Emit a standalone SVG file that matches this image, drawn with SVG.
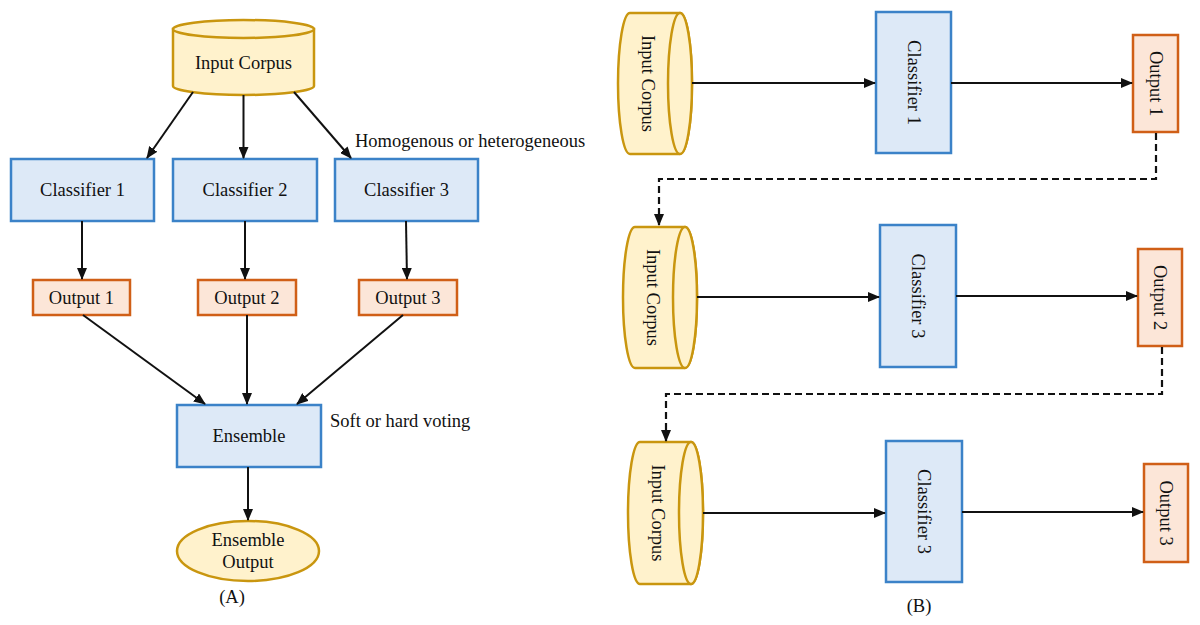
<svg xmlns="http://www.w3.org/2000/svg" width="1200" height="625" viewBox="0 0 1200 625">
<style>
text{font-family:"Liberation Serif","Times New Roman",serif;font-size:18.5px;fill:#111}
.cyl{fill:#fff2cc;stroke:#c9960f;stroke-width:2.5}
.blue{fill:#dde9f7;stroke:#3b82c8;stroke-width:2.5}
.orange{fill:#fce6d8;stroke:#d05f17;stroke-width:2.5}
.c{stroke:#111;stroke-width:2;fill:none}
.d{stroke:#111;stroke-width:2.2;fill:none;stroke-dasharray:7 4}
</style>
<defs>
<marker id="ah" markerWidth="12" markerHeight="10" refX="11" refY="5" orient="auto" markerUnits="userSpaceOnUse">
<path d="M0,0 L12,5 L0,10 Z" fill="#111"/>
</marker>
</defs>
<rect width="1200" height="625" fill="#fff"/>

<!-- Panel A -->
<g id="a-input">
<path class="cyl" d="M173,29 L173,86 A70.5,9 0 0 0 314,86 L314,29 Z"/>
<ellipse class="cyl" cx="243.5" cy="29" rx="70.5" ry="9"/>
<text x="243.5" y="69" text-anchor="middle">Input Corpus</text>
</g>
<g id="a-clf1"><rect class="blue" x="11" y="159" width="143" height="62"/><text x="82.5" y="196" text-anchor="middle">Classifier 1</text></g>
<g id="a-clf2"><rect class="blue" x="173" y="159" width="144" height="62"/><text x="245" y="196" text-anchor="middle">Classifier 2</text></g>
<g id="a-clf3"><rect class="blue" x="335" y="159" width="143" height="62"/><text x="406.5" y="196" text-anchor="middle">Classifier 3</text></g>
<g id="a-out1"><rect class="orange" x="33" y="280" width="97" height="35"/><text x="81.5" y="304" text-anchor="middle">Output 1</text></g>
<g id="a-out2"><rect class="orange" x="198" y="280" width="98" height="35"/><text x="247" y="304" text-anchor="middle">Output 2</text></g>
<g id="a-out3"><rect class="orange" x="359" y="280" width="98" height="35"/><text x="408" y="304" text-anchor="middle">Output 3</text></g>
<g id="a-ens"><rect class="blue" x="177" y="405" width="144" height="62"/><text x="249" y="442" text-anchor="middle">Ensemble</text></g>
<g id="a-ensout"><ellipse class="cyl" cx="248" cy="551" rx="71" ry="30"/><text x="248" y="546" text-anchor="middle">Ensemble</text><text x="248" y="568" text-anchor="middle">Output</text></g>
<text id="a-lbl1" x="355" y="147">Homogenous or heterogeneous</text>
<text id="a-lbl2" x="330" y="427">Soft or hard voting</text>
<text id="a-cap" x="232" y="603" text-anchor="middle">(A)</text>

<!-- Panel B -->
<g id="b-input1">
<path class="cyl" d="M630,13 L680,13 A12,70.5 0 0 1 680,154 L630,154 A12,70.5 0 0 1 630,13 Z"/>
<ellipse class="cyl" cx="680" cy="83.5" rx="12" ry="70.5"/>
<text transform="translate(648,83.5) rotate(90)" text-anchor="middle" dominant-baseline="central">Input Corpus</text>
</g>
<g id="b-clf1"><rect class="blue" x="876" y="12" width="75" height="141"/><text transform="translate(913.5,82.5) rotate(90)" text-anchor="middle" dominant-baseline="central">Classifier 1</text></g>
<g id="b-out1"><rect class="orange" x="1133" y="35" width="45" height="97"/><text transform="translate(1155.5,83.5) rotate(90)" text-anchor="middle" dominant-baseline="central">Output 1</text></g>

<g id="b-input2">
<path class="cyl" d="M635,227 L685,227 A12,70.5 0 0 1 685,368 L635,368 A12,70.5 0 0 1 635,227 Z"/>
<ellipse class="cyl" cx="685" cy="297.5" rx="12" ry="70.5"/>
<text transform="translate(653,297.5) rotate(90)" text-anchor="middle" dominant-baseline="central">Input Corpus</text>
</g>
<g id="b-clf2"><rect class="blue" x="880" y="225" width="76" height="142"/><text transform="translate(918,296) rotate(90)" text-anchor="middle" dominant-baseline="central">Classifier 3</text></g>
<g id="b-out2"><rect class="orange" x="1138" y="249" width="44" height="97"/><text transform="translate(1160,297.5) rotate(90)" text-anchor="middle" dominant-baseline="central">Output 2</text></g>

<g id="b-input3">
<path class="cyl" d="M640,442 L691,442 A12,71 0 0 1 691,584 L640,584 A12,71 0 0 1 640,442 Z"/>
<ellipse class="cyl" cx="691" cy="513" rx="12" ry="71"/>
<text transform="translate(658,513) rotate(90)" text-anchor="middle" dominant-baseline="central">Input Corpus</text>
</g>
<g id="b-clf3"><rect class="blue" x="886" y="441" width="76" height="141"/><text transform="translate(924,511.5) rotate(90)" text-anchor="middle" dominant-baseline="central">Classifier 3</text></g>
<g id="b-out3"><rect class="orange" x="1144" y="464" width="44" height="98"/><text transform="translate(1166,513) rotate(90)" text-anchor="middle" dominant-baseline="central">Output 3</text></g>
<text id="b-cap" x="919" y="612" text-anchor="middle">(B)</text>

<!-- Connectors -->
<g id="connectors">
<line class="c" x1="193" y1="92" x2="147" y2="158" marker-end="url(#ah)"/>
<line class="c" x1="243.5" y1="95" x2="243.5" y2="158" marker-end="url(#ah)"/>
<line class="c" x1="294" y1="92" x2="351" y2="158" marker-end="url(#ah)"/>
<line class="c" x1="82" y1="221" x2="82" y2="279" marker-end="url(#ah)"/>
<line class="c" x1="245" y1="221" x2="245" y2="279" marker-end="url(#ah)"/>
<line class="c" x1="406" y1="221" x2="407" y2="279" marker-end="url(#ah)"/>
<line class="c" x1="83" y1="315" x2="205" y2="404" marker-end="url(#ah)"/>
<line class="c" x1="247" y1="315" x2="247" y2="404" marker-end="url(#ah)"/>
<line class="c" x1="403" y1="315" x2="297" y2="404" marker-end="url(#ah)"/>
<line class="c" x1="248" y1="467" x2="248" y2="520" marker-end="url(#ah)"/>

<line class="c" x1="692" y1="83" x2="875" y2="83" marker-end="url(#ah)"/>
<line class="c" x1="951" y1="83" x2="1132" y2="83" marker-end="url(#ah)"/>
<line class="c" x1="697" y1="297" x2="879" y2="297" marker-end="url(#ah)"/>
<line class="c" x1="956" y1="296" x2="1137" y2="296" marker-end="url(#ah)"/>
<line class="c" x1="703" y1="513" x2="885" y2="513" marker-end="url(#ah)"/>
<line class="c" x1="962" y1="512" x2="1143" y2="512" marker-end="url(#ah)"/>

<polyline class="d" points="1156,133 1156,179 659,179 659,225" marker-end="url(#ah)"/>
<polyline class="d" points="1162,347 1162,394 666,394 666,441" marker-end="url(#ah)"/>
</g>
</svg>
